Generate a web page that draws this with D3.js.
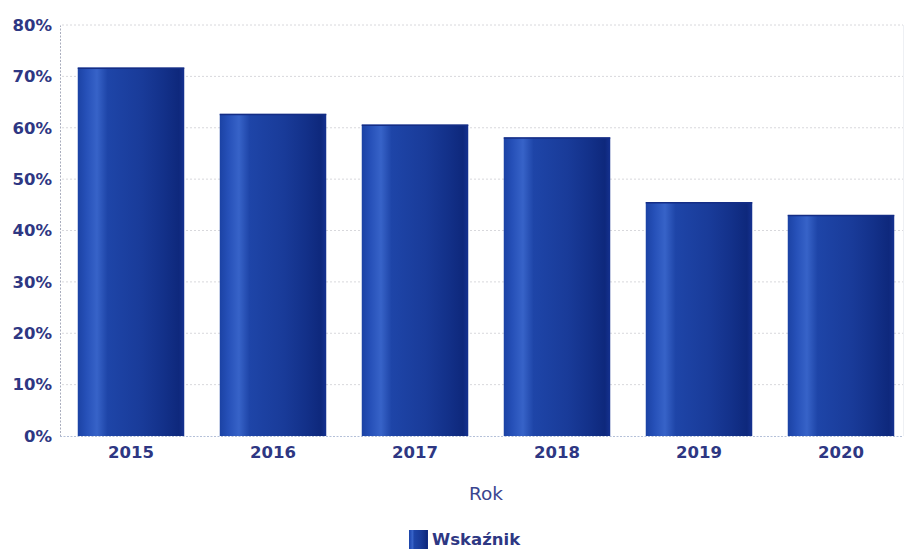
<!DOCTYPE html>
<html><head><meta charset="utf-8">
<script src="https://cdn.jsdelivr.net/npm/d3@7/dist/d3.min.js"></script>
<style>body{margin:0;background:#fff}svg{display:block}</style>
</head><body>
<svg id="c" width="905" height="549"></svg>
<script>
const categories = ["2015","2016","2017","2018","2019","2020"];
const values = [71.7, 62.7, 60.6, 58.1, 45.5, 43.0];
const yTicks = [0,10,20,30,40,50,60,70,80];
const seriesName = "Wskaźnik";
const xTitle = "Rok";

const svg = d3.select("#c");
const textColor = "#2e3783";
const font = "'DejaVu Sans', Verdana, sans-serif";

const x = d3.scaleBand().domain(categories).range([60, 912]).paddingInner(0.25).paddingOuter(0.125);
const y = d3.scaleLinear().domain([0, 80]).range([436, 25]);

const defs = svg.append("defs");
const g = defs.append("linearGradient").attr("id","bg").attr("x1","0").attr("x2","1").attr("y1","0").attr("y2","0");
[[0,"#1b42a4"],[0.08,"#2650b8"],[0.18,"#3763c8"],[0.28,"#1e45a8"],[0.6,"#193b99"],[0.8,"#13318a"],[0.95,"#0e287c"],[1,"#153190"]]
  .forEach(([o,c])=>g.append("stop").attr("offset",o).attr("stop-color",c));

// gridlines
svg.append("g").selectAll("line").data(yTicks.filter(t=>t>0)).join("line")
  .attr("x1",62).attr("x2",903).attr("y1",d=>y(d)).attr("y2",d=>y(d))
  .attr("stroke","#d8d8dc").attr("stroke-width",1).attr("stroke-dasharray","2,2");
// right faint border
svg.append("line").attr("x1",903.5).attr("x2",903.5).attr("y1",y(80)).attr("y2",y(0))
  .attr("stroke","#eef0f4").attr("stroke-width",1);

// y axis
const ya = svg.append("g").attr("transform","translate(60,0)")
  .call(d3.axisLeft(y).tickValues(yTicks).tickFormat(d=>d+"%").tickSize(0).tickPadding(8));
ya.select(".domain").attr("stroke","#a9adbd").attr("stroke-dasharray","2,1.5");
ya.selectAll("text").attr("font-family",font).attr("font-size",16.5).attr("font-weight","bold").attr("fill",textColor);

// x axis baseline
svg.append("line").attr("x1",60).attr("x2",903).attr("y1",y(0)+0.5).attr("y2",y(0)+0.5)
  .attr("stroke","#b4c0d8").attr("stroke-dasharray","2,1.5");

// bars
svg.append("g").selectAll("rect").data(values).join("rect")
  .attr("x",(d,i)=>x(categories[i])).attr("width",x.bandwidth())
  .attr("y",d=>y(d)).attr("height",d=>y(0)-y(d))
  .attr("fill","url(#bg)");
// top edge dark line
svg.append("g").selectAll("line").data(values).join("line")
  .attr("x1",(d,i)=>x(categories[i])).attr("x2",(d,i)=>x(categories[i])+x.bandwidth())
  .attr("y1",d=>y(d)+0.5).attr("y2",d=>y(d)+0.5).attr("stroke","#142d85").attr("stroke-width",1.5);

// x axis labels
const xa = svg.append("g").attr("transform",`translate(0,${y(0)})`)
  .call(d3.axisBottom(x).tickSize(0).tickPadding(10));
xa.select(".domain").remove();
xa.selectAll("text").attr("font-family",font).attr("font-size",16.5).attr("font-weight","bold").attr("fill",textColor);

// x title
svg.append("text").attr("x",486).attr("y",500).attr("text-anchor","middle")
  .attr("font-family",font).attr("font-size",18.5).attr("fill","#3a4590").text(xTitle);

// legend
svg.append("rect").attr("x",409).attr("y",530).attr("width",19).attr("height",19).attr("fill","url(#bg)");
svg.append("text").attr("x",432).attr("y",545).attr("font-family",font).attr("font-size",16.5)
  .attr("font-weight","bold").attr("fill",textColor).text(seriesName);
</script>
</body></html>
